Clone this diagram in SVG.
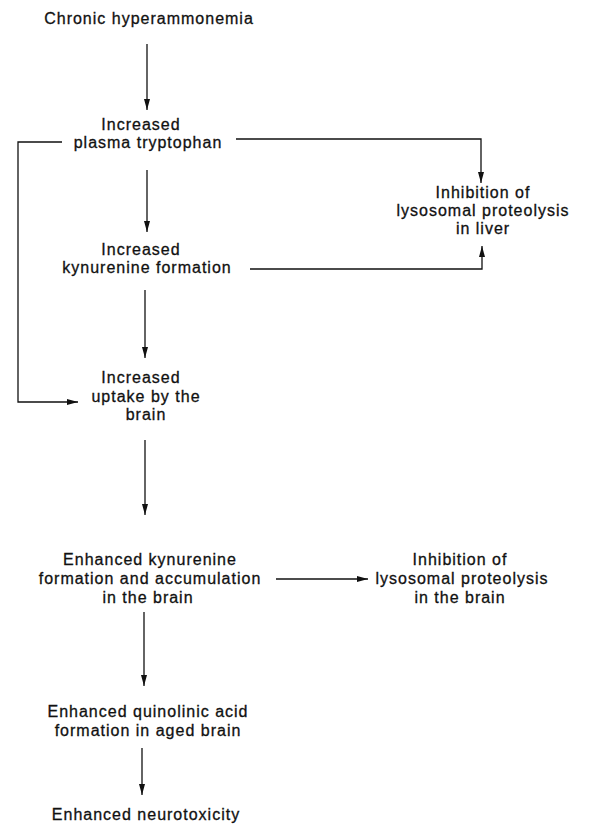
<svg xmlns="http://www.w3.org/2000/svg" width="594" height="824" viewBox="0 0 594 824">
<defs>
<marker id="ah" markerUnits="userSpaceOnUse" markerWidth="12" markerHeight="8" refX="11" refY="3" orient="auto">
<path d="M0,0 L11,3 L0,6 Z" fill="#111"/>
</marker>
<style>
text{font-family:"Liberation Sans",Arial,sans-serif;font-size:16px;letter-spacing:1px;fill:#111;stroke:#111;stroke-width:0.3;text-anchor:middle}
.c{fill:none;stroke:#111;stroke-width:1.3}
</style>
</defs>
<rect width="594" height="824" fill="#fff"/>
<g id="connectors">
<line class="c" x1="147" y1="44" x2="147" y2="110" marker-end="url(#ah)"/>
<line class="c" x1="147" y1="170" x2="147" y2="232" marker-end="url(#ah)"/>
<line class="c" x1="145" y1="290" x2="145" y2="358" marker-end="url(#ah)"/>
<line class="c" x1="145" y1="440" x2="145" y2="515" marker-end="url(#ah)"/>
<line class="c" x1="144" y1="612" x2="144" y2="686" marker-end="url(#ah)"/>
<line class="c" x1="142" y1="748" x2="142" y2="795" marker-end="url(#ah)"/>
<polyline class="c" points="62,142 18,142 18,402 78,402" marker-end="url(#ah)"/>
<polyline class="c" points="236,139 481,139 481,183" marker-end="url(#ah)"/>
<polyline class="c" points="250,269 482,269 482,246" marker-end="url(#ah)"/>
<line class="c" x1="276" y1="579" x2="368" y2="579" marker-end="url(#ah)"/>
</g>
<g id="n1"><text x="149" y="24">Chronic hyperammonemia</text></g>
<g id="n2"><text x="141" y="130">Increased</text><text x="148" y="148">plasma tryptophan</text></g>
<g id="n3"><text x="483" y="198">Inhibition of</text><text x="483" y="216">lysosomal proteolysis</text><text x="483" y="234">in liver</text></g>
<g id="n4"><text x="141" y="255">Increased</text><text x="147" y="273">kynurenine formation</text></g>
<g id="n5"><text x="141" y="383">Increased</text><text x="146" y="402">uptake by the</text><text x="146" y="420">brain</text></g>
<g id="n6"><text x="150" y="565">Enhanced kynurenine</text><text x="150" y="584">formation and accumulation</text><text x="148" y="603">in the brain</text></g>
<g id="n7"><text x="460" y="565">Inhibition of</text><text x="462" y="584">lysosomal proteolysis</text><text x="460" y="603">in the brain</text></g>
<g id="n8"><text x="148" y="717">Enhanced quinolinic acid</text><text x="148" y="736">formation in aged brain</text></g>
<g id="n9"><text x="146" y="820">Enhanced neurotoxicity</text></g>
</svg>
